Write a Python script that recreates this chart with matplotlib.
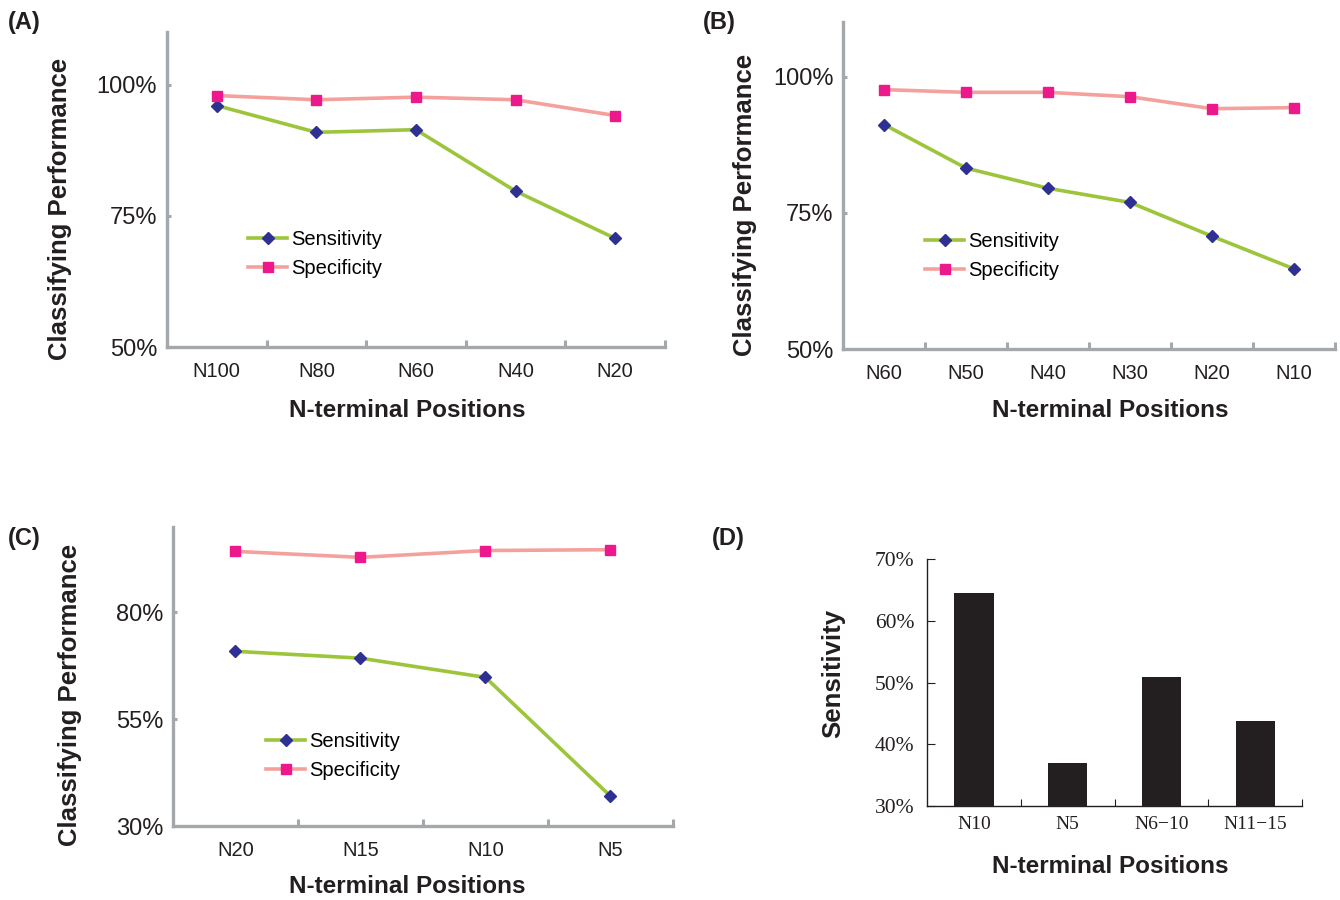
import matplotlib
matplotlib.use("Agg")
import matplotlib.pyplot as plt
import numpy as np

plt.rcParams['font.family'] = ['Liberation Sans', 'DejaVu Sans']

# panel A
a_cats = ['N100', 'N80', 'N60', 'N40', 'N20']
a_sens = [96.0, 90.9, 91.4, 79.7, 70.7]
a_spec = [97.9, 97.1, 97.6, 97.1, 94.1]

# panel B
b_cats = ['N60', 'N50', 'N40', 'N30', 'N20', 'N10']
b_sens = [91.2, 83.2, 79.5, 76.9, 70.7, 64.7]
b_spec = [97.6, 97.1, 97.1, 96.3, 94.1, 94.3]

# panel C
c_cats = ['N20', 'N15', 'N10', 'N5']
c_sens = [70.9, 69.3, 64.8, 37.0]
c_spec = [94.3, 92.9, 94.5, 94.7]

# panel D
d_cats = ['N10', 'N5', 'N6\u221210', 'N11\u221215']
d_sens = [64.5, 37.0, 50.9, 43.8]

GRAY = '#a5a8ab'
GREEN = '#9dc53c'
NAVY = '#2e3192'
SALMON = '#f4a19d'
MAGENTA = '#ec188c'
INK = '#231f20'

fig = plt.figure(figsize=(13.4, 9), dpi=100)


def line_panel(rect, cats, sens, spec, ylim, yticks, leg_xy, xl_x, yl, xl):
    ax = fig.add_axes(rect)
    x = np.arange(len(cats))
    ax.plot(x, sens, color=GREEN, lw=2.6, marker='D', ms=6.5,
            mfc=NAVY, mec=NAVY, label='Sensitivity', zorder=3)
    ax.plot(x, spec, color=SALMON, lw=2.6, marker='s', ms=7.5,
            mfc=MAGENTA, mec=MAGENTA, label='Specificity', zorder=3)
    ax.set_xlim(-0.5, len(cats) - 0.5)
    ax.set_ylim(*ylim)
    ax.set_yticks(yticks)
    ax.set_yticklabels(['%d%%' % v for v in yticks], fontsize=17, color=INK)
    ax.set_xticks(x)
    ax.set_xticklabels(cats, fontsize=14.5, color=INK)
    ax.set_xticks(np.arange(len(cats)) + 0.5, minor=True)
    ax.tick_params(axis='x', which='major', length=0, pad=11)
    ax.tick_params(axis='x', which='minor', direction='in', length=5,
                   width=2.2, color=GRAY)
    ax.tick_params(axis='y', direction='in', length=3, width=2.2,
                   color=GRAY, pad=7)
    for s in ['top', 'right']:
        ax.spines[s].set_visible(False)
    for s in ['left', 'bottom']:
        ax.spines[s].set_color(GRAY)
        ax.spines[s].set_linewidth(2.4)
    ax.set_ylabel('Classifying Performance', fontsize=18.5, fontweight='bold', color=INK)
    ax.set_xlabel('N-terminal Positions', fontsize=17.5, fontweight='bold', color=INK)
    ax.yaxis.set_label_coords(yl, 0.44)
    ax.xaxis.set_label_coords(xl_x, xl)
    ax.legend(loc='upper left', bbox_to_anchor=leg_xy, frameon=False,
              fontsize=14.5, handlelength=1.95, handletextpad=0.2,
              labelspacing=0.5, borderaxespad=0, borderpad=0)
    return ax


line_panel([0.1246, 0.6144, 0.3716, 0.35], a_cats, a_sens, a_spec,
           (50, 110), [50, 75, 100], (0.163, 0.372), 0.482, -0.191, -0.165)
line_panel([0.6291, 0.6122, 0.3672, 0.3633], b_cats, b_sens, b_spec,
           (50, 110), [50, 75, 100], (0.167, 0.358), 0.543, -0.175, -0.153)
line_panel([0.1291, 0.0822, 0.3731, 0.3322], c_cats, c_sens, c_spec,
           (30, 100), [30, 55, 80], (0.186, 0.315), 0.468, -0.182, -0.163)

# panel D bar chart
axd = fig.add_axes([0.6918, 0.1044, 0.2799, 0.2744])
xd = np.arange(len(d_cats))
axd.bar(xd, np.array(d_sens) - 30, bottom=30, width=0.42, color=INK)
axd.set_xlim(-0.5, len(d_cats) - 0.5)
axd.set_ylim(30, 70)
dt = [30, 40, 50, 60, 70]
axd.set_yticks(dt)
axd.set_yticklabels(['%d%%' % v for v in dt], fontsize=15.5, color=INK,
                    family=['Liberation Serif', 'DejaVu Serif'])
axd.set_xticks(xd)
axd.set_xticklabels(d_cats, fontsize=14, color=INK,
                    family=['Liberation Serif', 'DejaVu Serif'])
axd.set_xticks(xd + 0.5, minor=True)
axd.tick_params(axis='x', which='major', length=0, pad=7)
axd.tick_params(axis='x', which='minor', direction='in', length=5, width=0.8, color=INK)
axd.tick_params(axis='y', direction='in', length=6, width=0.8, color=INK, pad=9)
for s in ['top', 'right']:
    axd.spines[s].set_visible(False)
for s in ['left', 'bottom']:
    axd.spines[s].set_color(INK)
    axd.spines[s].set_linewidth(1.0)
axd.set_ylabel('Sensitivity', fontsize=18.5, fontweight='bold', color=INK)
axd.set_xlabel('N-terminal Positions', fontsize=17.5, fontweight='bold', color=INK)
axd.yaxis.set_label_coords(-0.219, 0.538)
axd.xaxis.set_label_coords(0.488, -0.2)

# panel letters
for lab, px, py in [('(A)', 8, 22), ('(B)', 703, 22), ('(C)', 8, 538), ('(D)', 712, 538)]:
    fig.text(px / 1340, 1 - py / 900, lab, fontsize=17, fontweight='bold',
             color=INK, va='center', ha='left')

fig.savefig('out.png', dpi=100)
